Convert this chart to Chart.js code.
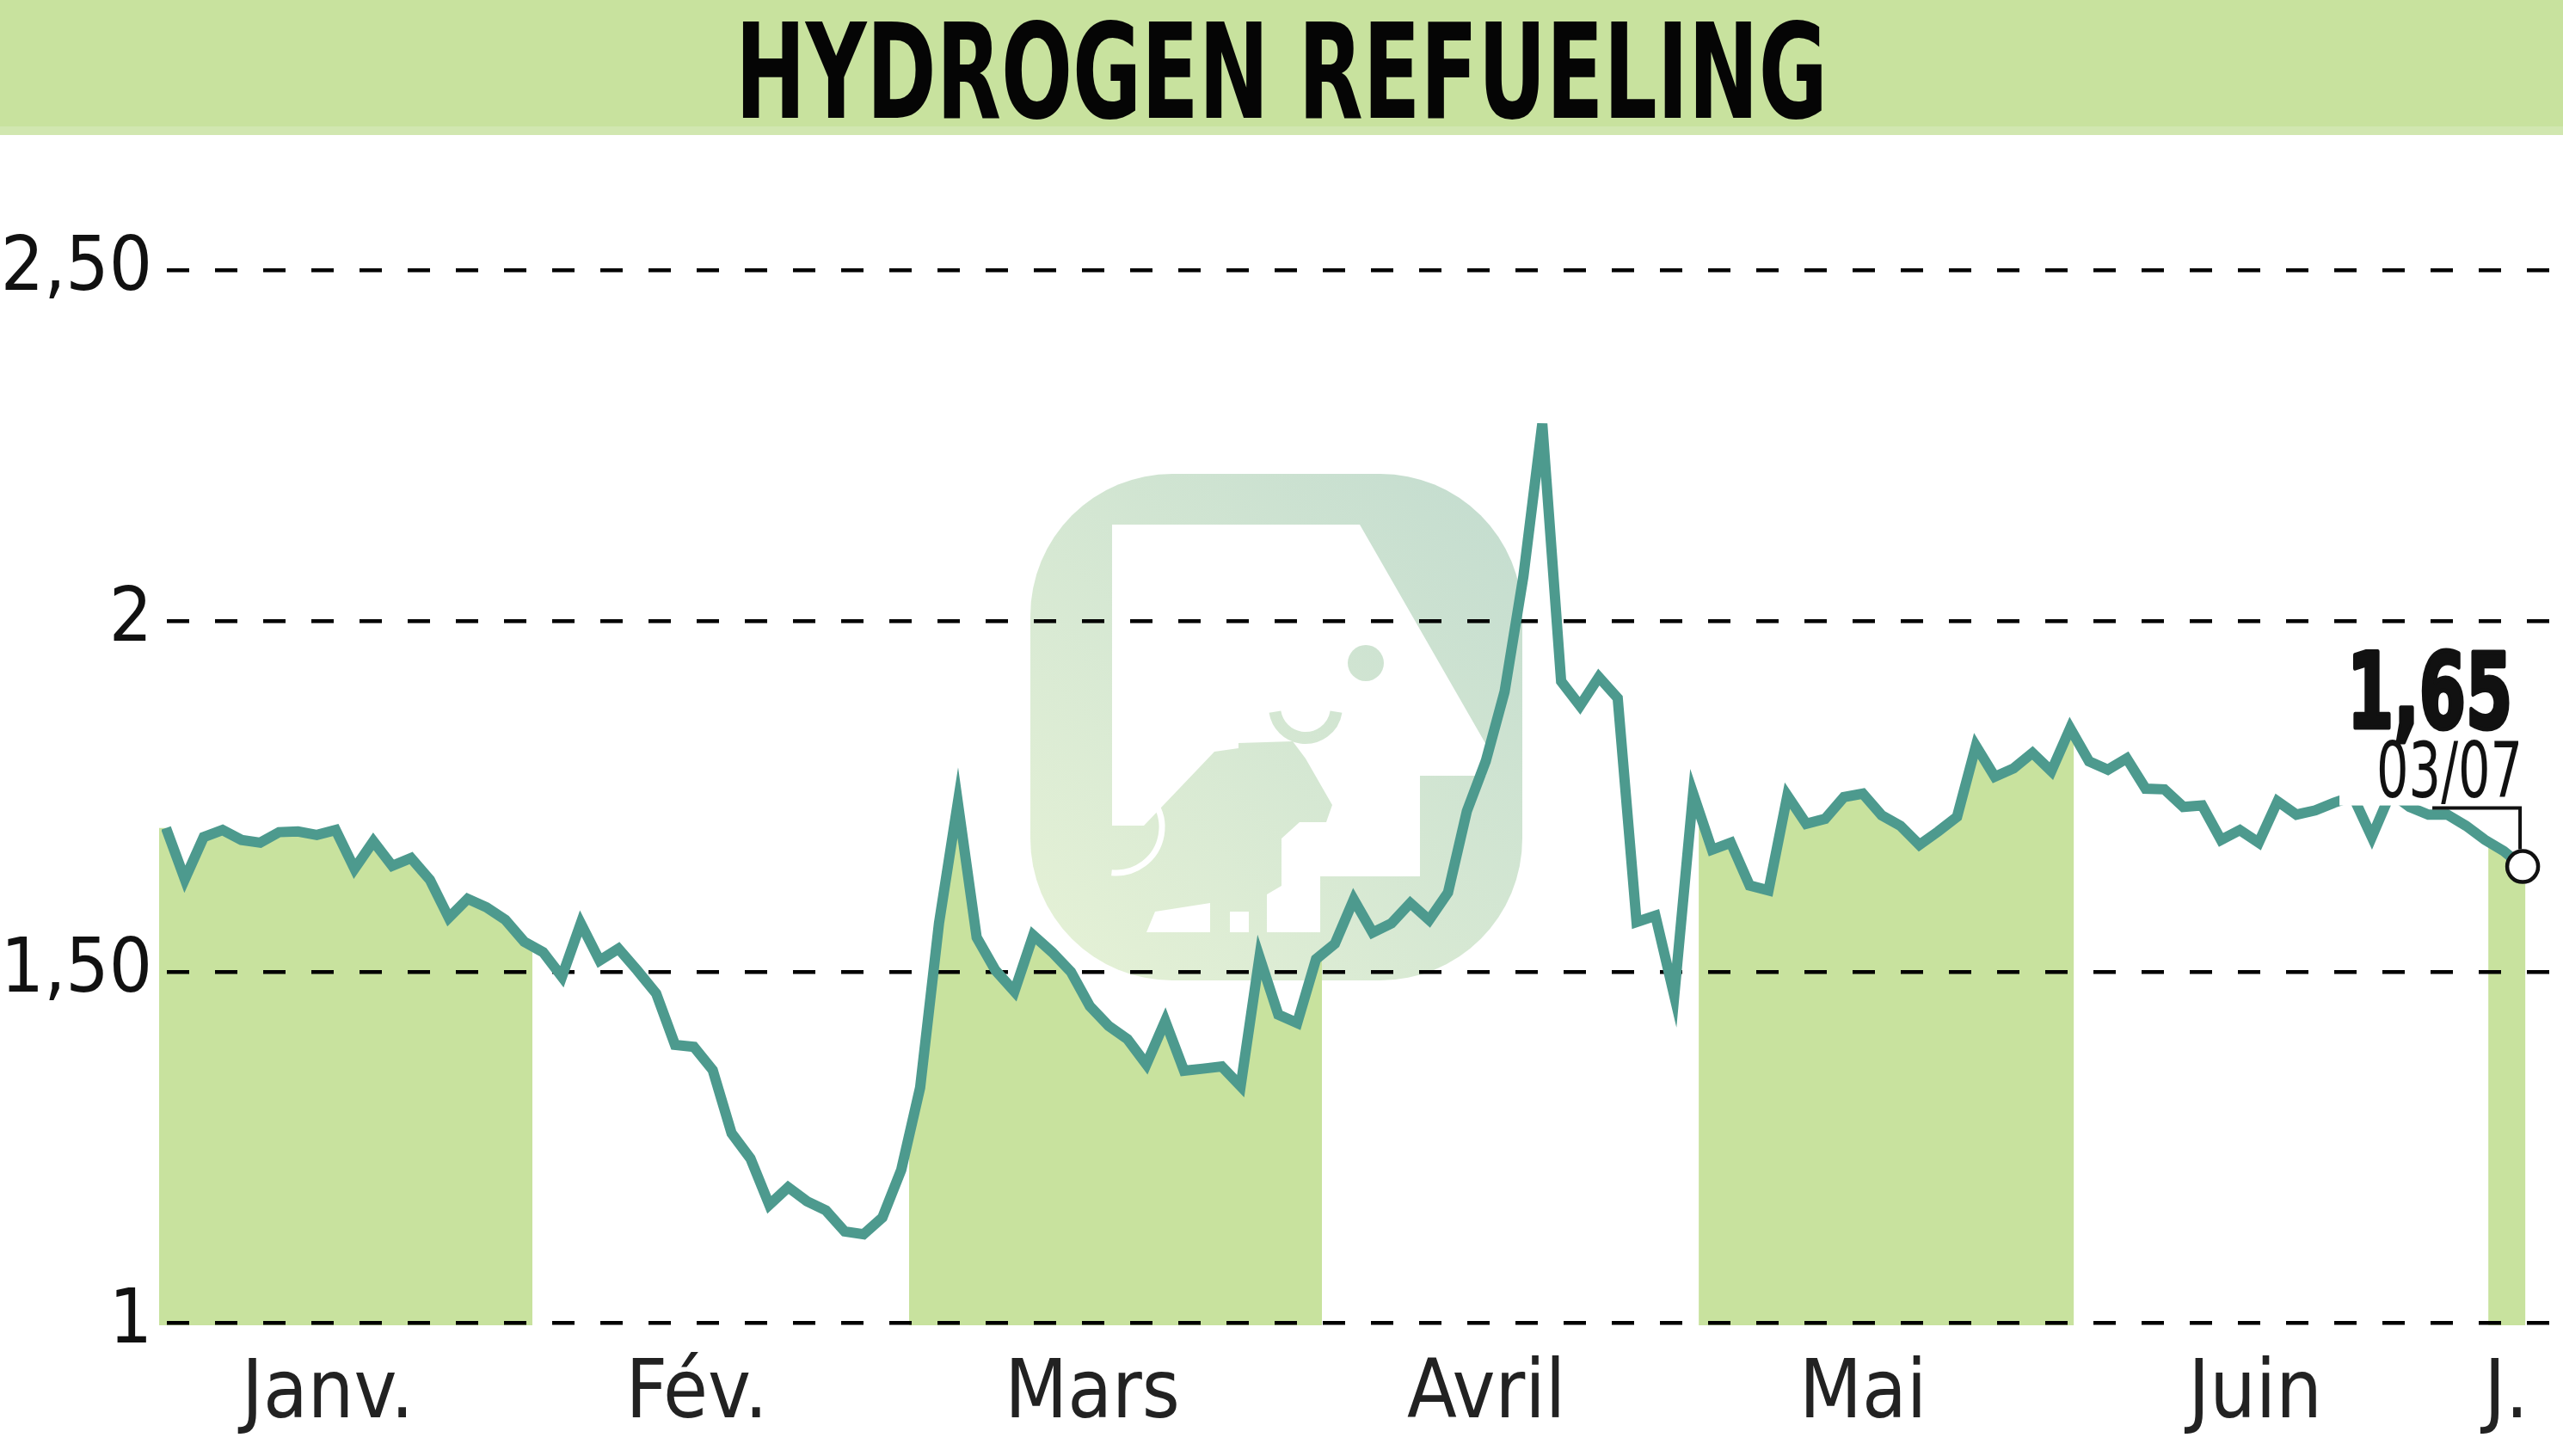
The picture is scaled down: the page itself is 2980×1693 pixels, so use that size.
<!DOCTYPE html>
<html>
<head>
<meta charset="utf-8">
<script src="https://cdn.jsdelivr.net/npm/chart.js@4.4.1/dist/chart.umd.min.js"></script>
<style>
  html, body { margin: 0; padding: 0; background: #fff; }
  #wrap { position: relative; width: 2980px; height: 1693px; overflow: hidden; }
  #band { position: absolute; left: 0; top: 0; width: 2980px; height: 147px; background: #c8e29e; border-bottom: 10px solid #d1e7b0; z-index: 2; }
  #title { position: absolute; left: 1490px; top: 7px; font-weight: bold; font-size: 154px; line-height: 1;
           font-family: 'Liberation Sans Narrow', 'DejaVu Sans Condensed', 'DejaVu Sans', sans-serif;
           color: #050505; white-space: nowrap; transform-origin: 50% 50%; }
  canvas { position: absolute; left: 0; top: 0; }
</style>
</head>
<body>
<div id="wrap">
  <canvas id="chart" width="2980" height="1693"></canvas>
  <div id="band"><span id="title">HYDROGEN REFUELING</span></div>
</div>
<script>
// cours de clôture, une valeur par séance (2 janv. -> 3 juil.)
const values = [
  1.705, 1.632, 1.692, 1.702, 1.688, 1.684, 1.699, 1.700, 1.695, 1.702,
  1.647, 1.686, 1.651, 1.662, 1.631, 1.577, 1.604, 1.592, 1.574, 1.543,
  1.528, 1.493, 1.569, 1.516, 1.533, 1.502, 1.469, 1.396, 1.393, 1.360,
  1.270, 1.234, 1.168, 1.193, 1.173, 1.160, 1.130, 1.126, 1.150, 1.218,
  1.335, 1.569, 1.741, 1.549, 1.502, 1.472, 1.552, 1.528, 1.500, 1.451,
  1.423, 1.404, 1.368, 1.430, 1.359, 1.362, 1.365, 1.337, 1.521, 1.439,
  1.427, 1.518, 1.540, 1.603, 1.556, 1.569, 1.598, 1.574, 1.613, 1.729,
  1.800, 1.899, 2.064, 2.281, 1.914, 1.879, 1.920, 1.890, 1.571, 1.580,
  1.466, 1.754, 1.674, 1.684, 1.623, 1.616, 1.751, 1.711, 1.718, 1.749,
  1.754, 1.723, 1.708, 1.681, 1.700, 1.721, 1.822, 1.778, 1.790, 1.812,
  1.786, 1.847, 1.800, 1.788, 1.804, 1.761, 1.760, 1.735, 1.737, 1.688,
  1.702, 1.684, 1.743, 1.724, 1.730, 1.741, 1.750, 1.692, 1.755, 1.735,
  1.724, 1.724, 1.708, 1.688, 1.672, 1.650
];

// mois (position en séances)
const monthNames = ['Janv.', 'Fév.', 'Mars', 'Avril', 'Mai', 'Juin', 'J.'];
const monthTickPos = [8.58, 28.15, 49.13, 70.03, 90.01, 110.81, 124.13];
const shadedMonths = [[-0.36, 19.43], [39.42, 61.31], [81.30, 101.19], [123.18, 125.14]];

const yTicks = [1, 1.5, 2, 2.5];
const yTickLabels = ['1', '1,50', '2', '2,50'];

const lastValueLabel = '1,65';
const lastDateLabel = '03/07';

const fam = "'Liberation Sans Narrow', 'DejaVu Sans Condensed', 'DejaVu Sans', sans-serif";
const green = '#c8e29e';
const teal = '#4d9a8e';

function poly(ctx, pts) {
  ctx.beginPath();
  ctx.moveTo(pts[0][0], pts[0][1]);
  for (let i = 1; i < pts.length; i++) ctx.lineTo(pts[i][0], pts[i][1]);
  ctx.closePath();
}

// logo en filigrane
function drawLogo(ctx) {
  const g = ctx.createLinearGradient(1198, 1140, 1770, 551);
  g.addColorStop(0, '#e6f2d6');
  g.addColorStop(1, '#c3dccf');
  ctx.save();
  ctx.fillStyle = g;
  ctx.beginPath();
  ctx.roundRect(1198, 551, 572, 589, 165);
  ctx.fill();

  ctx.fillStyle = '#fff';
  poly(ctx, [[1293, 610], [1581, 610], [1728, 866], [1728, 902], [1651, 902], [1651, 1019],
             [1535, 1019], [1535, 1084], [1333, 1084], [1333, 960], [1293, 960]]);
  ctx.fill();

  ctx.fillStyle = g;
  poly(ctx, [[1330, 960], [1412, 874], [1440, 870], [1440, 864], [1503, 862], [1518, 882],
             [1549, 936], [1542, 956], [1511, 956], [1490, 975], [1490, 1030], [1473, 1040],
             [1473, 1084], [1452, 1084], [1452, 1060], [1430, 1060], [1430, 1084], [1407, 1084],
             [1407, 1050], [1343, 1060], [1333, 1084], [1330, 1084]]);
  ctx.fill();

  ctx.strokeStyle = g;
  ctx.lineWidth = 14;
  ctx.beginPath();
  ctx.arc(1518, 822, 36, 0.05 * Math.PI, 0.95 * Math.PI);
  ctx.stroke();

  ctx.beginPath();
  ctx.arc(1588, 771, 21, 0, 2 * Math.PI);
  ctx.fill();

  ctx.strokeStyle = '#fff';
  ctx.lineWidth = 7;
  ctx.beginPath();
  ctx.arc(1298, 962, 53, -80 * Math.PI / 180, 96 * Math.PI / 180);
  ctx.stroke();
  ctx.restore();
}

// aire sous la courbe pour un mois sur deux
function drawBands(chart) {
  const ctx = chart.ctx, xs = chart.scales.x, ys = chart.scales.y;
  const pts = chart.getDatasetMeta(0).data;
  const base = ys.getPixelForValue(ys.min) + 3;
  const first = pts[0], last = pts[pts.length - 1];
  ctx.save();
  ctx.fillStyle = green;
  shadedMonths.forEach(([a, b]) => {
    const x0 = xs.getPixelForValue(a), x1 = xs.getPixelForValue(b);
    ctx.save();
    ctx.beginPath();
    ctx.rect(x0, 0, x1 - x0, base);
    ctx.clip();
    ctx.beginPath();
    ctx.moveTo(first.x - 30, base);
    ctx.lineTo(first.x - 30, first.y);
    pts.forEach(p => ctx.lineTo(p.x, p.y));
    ctx.lineTo(last.x + 30, last.y);
    ctx.lineTo(last.x + 30, base);
    ctx.closePath();
    ctx.fill();
    ctx.restore();
  });
  ctx.restore();
}

function fitText(ctx, txt, right, base, width, font, heavy) {
  ctx.save();
  ctx.font = font;
  const k = width / ctx.measureText(txt).width;
  ctx.translate(right, base);
  ctx.scale(k, 1);
  ctx.textAlign = 'right';
  ctx.textBaseline = 'alphabetic';
  ctx.fillStyle = '#111';
  ctx.fillText(txt, 0, 0);
  if (heavy) {
    ctx.strokeStyle = '#111';
    ctx.lineWidth = heavy;
    ctx.lineJoin = 'round';
    ctx.strokeText(txt, 0, 0);
  }
  ctx.restore();
}

const decor = {
  id: 'decor',
  beforeDraw(chart) {
    drawLogo(chart.ctx);
    drawBands(chart);
  },
  afterDatasetsDraw(chart) {
    const ctx = chart.ctx;
    const pts = chart.getDatasetMeta(0).data;
    const p = pts[pts.length - 1];
    ctx.save();
    ctx.fillStyle = '#fff';
    ctx.fillRect(p.x - 213, p.y - 158, 222, 87);
    fitText(ctx, lastValueLabel, p.x - 12, p.y - 162, 192, 'bold 122px ' + fam, 5);
    fitText(ctx, lastDateLabel, p.x, p.y - 81, 170, 'normal 89px ' + fam, 0);
    ctx.strokeStyle = '#111';
    ctx.lineWidth = 4;
    ctx.beginPath();
    ctx.moveTo(p.x - 105, p.y - 68);
    ctx.lineTo(p.x - 3, p.y - 68);
    ctx.lineTo(p.x - 3, p.y - 20);
    ctx.stroke();
    ctx.beginPath();
    ctx.arc(p.x, p.y, 18, 0, 2 * Math.PI);
    ctx.fillStyle = '#fff';
    ctx.fill();
    ctx.lineWidth = 4.5;
    ctx.stroke();
    ctx.restore();
  }
};

new Chart(document.getElementById('chart').getContext('2d'), {
  type: 'line',
  data: {
    datasets: [{
      data: values.map((v, i) => ({ x: i, y: v })),
      borderColor: teal,
      borderWidth: 12,
      borderJoinStyle: 'miter',
      pointRadius: 0,
      tension: 0,
      fill: false
    }]
  },
  options: {
    responsive: false,
    animation: false,
    layout: { padding: { top: 314, left: 0, right: 0, bottom: 0 } },
    plugins: { legend: { display: false }, tooltip: { enabled: false } },
    scales: {
      x: {
        type: 'linear',
        min: -0.228,
        max: 127.14,
        grid: { display: false },
        border: { display: false },
        afterBuildTicks: s => { s.ticks = monthTickPos.map(v => ({ value: v })); },
        afterFit: s => { s.height = 155; },
        ticks: {
          autoSkip: false, maxRotation: 0, padding: 21, color: '#222',
          font: { family: fam, size: 94 },
          callback: (v, i) => monthNames[i]
        }
      },
      y: {
        min: 1,
        max: 2.5,
        afterBuildTicks: s => { s.ticks = yTicks.map(v => ({ value: v })); },
        afterFit: s => { s.width = 188; },
        grid: { color: '#000', lineWidth: 4.5, drawTicks: false },
        border: { display: false, dash: [26, 30], dashOffset: 50 },
        ticks: {
          padding: 11, color: '#111',
          font: { family: fam, size: 88 },
          callback: (v, i) => yTickLabels[i]
        }
      }
    }
  },
  plugins: [decor]
});

function fitTitle() {
  const t = document.getElementById('title');
  const k = 1270 / t.offsetWidth;
  t.style.transform = 'translateX(-50%) scaleX(' + k + ')';
}
fitTitle();
document.fonts.ready.then(fitTitle);
</script>
</body>
</html>
